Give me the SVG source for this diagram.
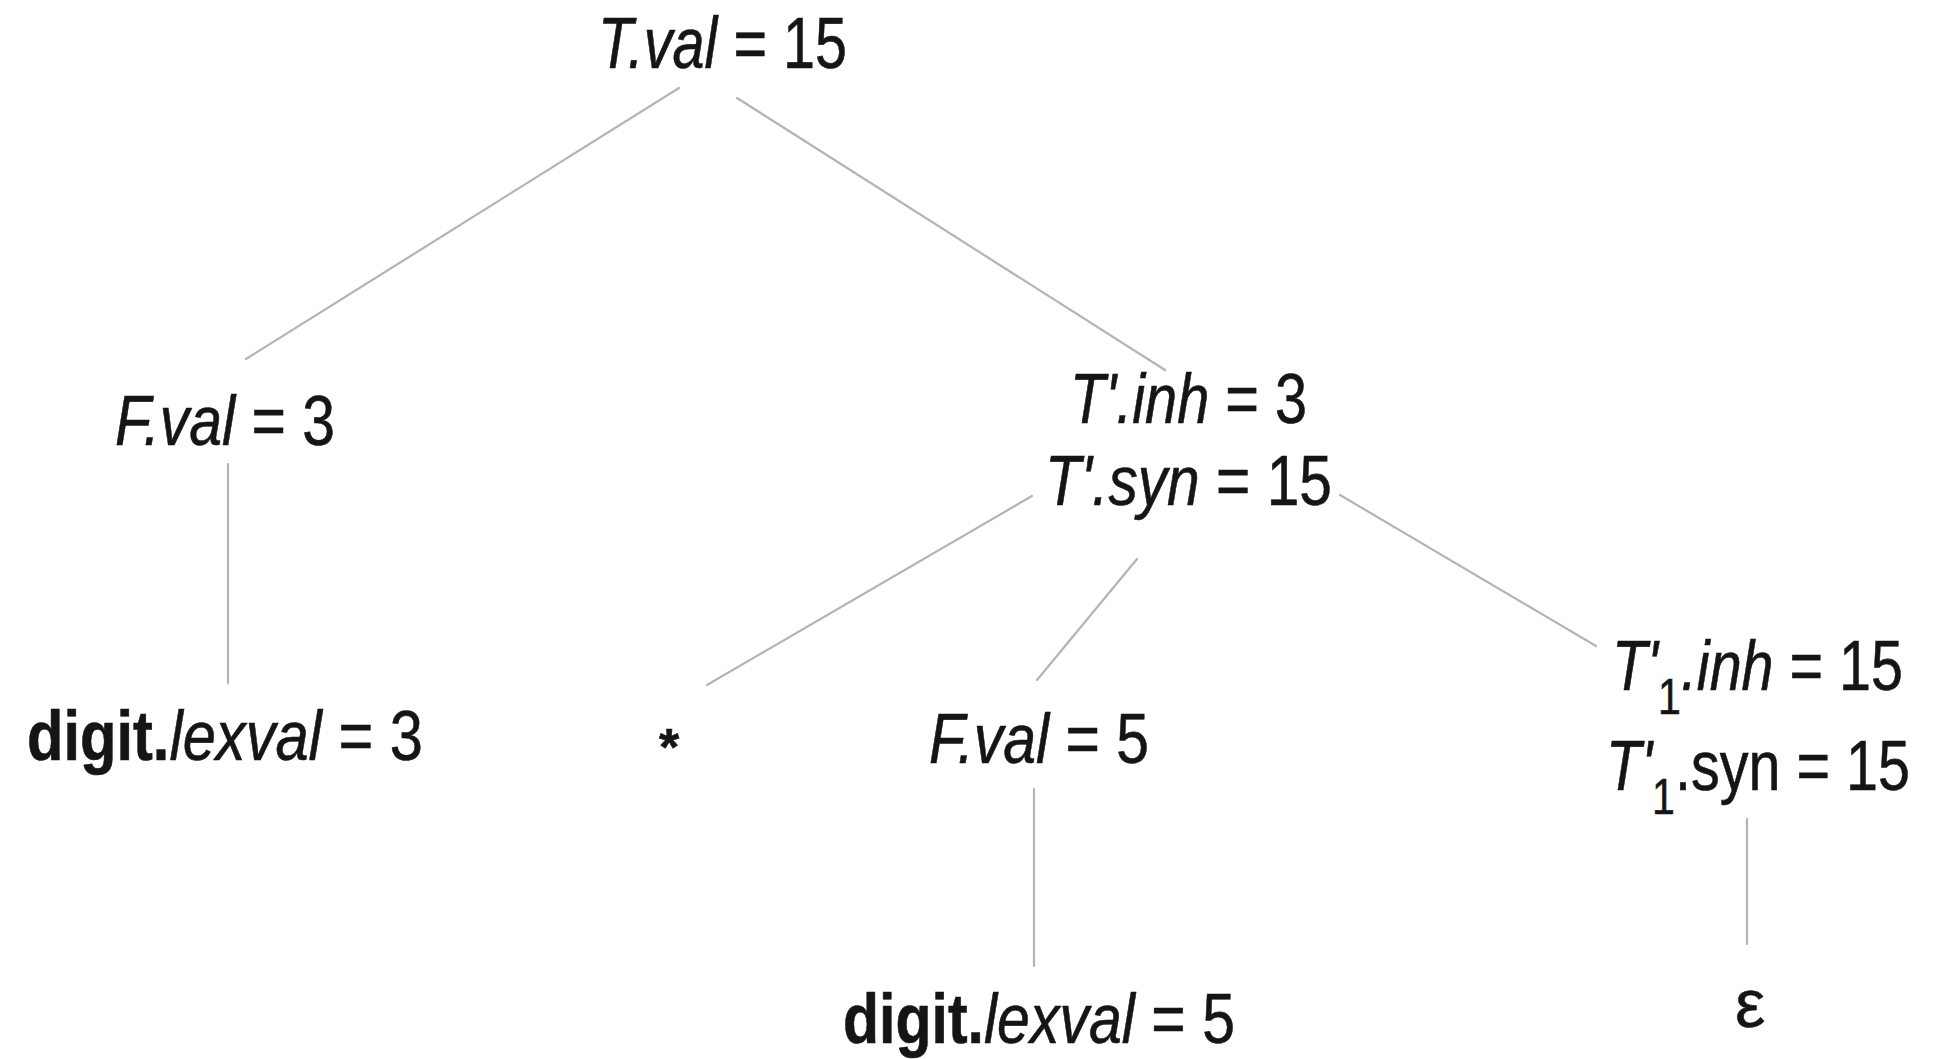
<svg xmlns="http://www.w3.org/2000/svg" width="1955" height="1059" viewBox="0 0 1955 1059">
<style>
text{font-family:"Liberation Sans",Arial,sans-serif;font-size:70px;fill:#151515;stroke:#151515;stroke-width:0.6}
.i{font-style:italic}
.b{font-weight:bold}
.sub{font-size:50px}
.edge{stroke:#b4b4b4;stroke-width:2.2;fill:none;stroke-linecap:round}
</style>
<rect width="1955" height="1059" fill="#ffffff"/>
<g id="connectors">
<line class="edge" x1="679" y1="88" x2="246" y2="359"/>
<line class="edge" x1="737" y1="98" x2="1165" y2="370"/>
<line class="edge" x1="228" y1="464" x2="228" y2="683"/>
<line class="edge" x1="1032" y1="496" x2="707" y2="685"/>
<line class="edge" x1="1137" y1="559" x2="1037" y2="680"/>
<line class="edge" x1="1340" y1="495" x2="1596" y2="646"/>
<line class="edge" x1="1034" y1="789" x2="1034" y2="966"/>
<line class="edge" x1="1747" y1="819" x2="1747" y2="944"/>
</g>
<g id="node-T">
<text x="598" y="68" style="font-size:73px" textLength="249" lengthAdjust="spacingAndGlyphs"><tspan class="i">T.val</tspan> = 15</text>
</g>
<g id="node-F1">
<text x="115" y="445" textLength="220" lengthAdjust="spacingAndGlyphs"><tspan class="i">F.val</tspan> = 3</text>
</g>
<g id="node-Tp">
<text x="1070" y="423" textLength="237" lengthAdjust="spacingAndGlyphs"><tspan class="i">T'.inh</tspan> = 3</text>
<text x="1045" y="505" textLength="287" lengthAdjust="spacingAndGlyphs"><tspan class="i">T'.syn</tspan> = 15</text>
</g>
<g id="node-digit1">
<text x="27" y="760" textLength="396" lengthAdjust="spacingAndGlyphs"><tspan class="b">digit.</tspan><tspan class="i">lexval</tspan> = 3</text>
</g>
<g id="node-star">
<text x="659" y="765" style="font-size:52px;font-weight:bold">*</text>
</g>
<g id="node-F2">
<text x="929" y="763" textLength="220" lengthAdjust="spacingAndGlyphs"><tspan class="i">F.val</tspan> = 5</text>
</g>
<g id="node-Tp1">
<text x="1612" y="690" textLength="291" lengthAdjust="spacingAndGlyphs"><tspan class="i">T'</tspan><tspan class="sub" dy="24">1</tspan><tspan class="i" dy="-24">.inh</tspan> = 15</text>
<text x="1606" y="790" textLength="304" lengthAdjust="spacingAndGlyphs"><tspan class="i">T'</tspan><tspan class="sub" dy="24">1</tspan><tspan dy="-24">.syn</tspan> = 15</text>
</g>
<g id="node-digit2">
<text x="843" y="1043" textLength="392" lengthAdjust="spacingAndGlyphs"><tspan class="b">digit.</tspan><tspan class="i">lexval</tspan> = 5</text>
</g>
<g id="node-eps">
<text x="1735" y="1027" style="font-size:68px">ε</text>
</g>
</svg>
